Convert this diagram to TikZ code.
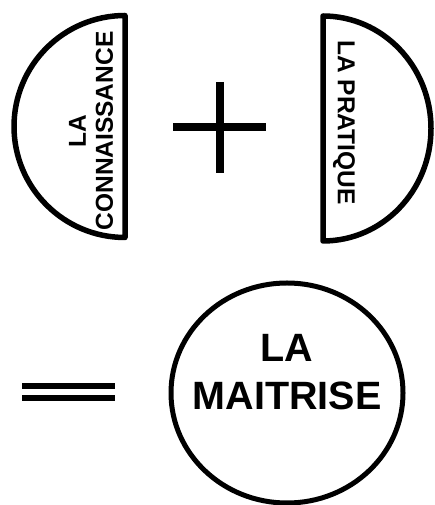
\documentclass[tikz,border=0pt]{standalone}
\usepackage{fontspec}
\setmainfont{Liberation Sans}
\usetikzlibrary{shapes.geometric, calc}

\begin{document}
\begin{tikzpicture}[x=1pt, y=1pt,
    half/.style={draw, line width=5.5pt, line join=round},
    bar/.style={line width=7.5pt},
    eqbar/.style={line width=6pt},
    lbl/.style={font=\fontsize{24.5}{27}\selectfont\bfseries, align=center, inner sep=0pt},
    big/.style={font=\fontsize{39.5}{48}\selectfont\bfseries, align=center, inner sep=0pt}
]
    \useasboundingbox (0,0) rectangle (435,505);
    % la connaissance
    \draw[half] (125,489.5) arc[start angle=90, end angle=270, radius=111] -- cycle;
    \node[lbl, rotate=90] (conn) at (91,374) {LA\\CONNAISSANCE};
    % plus
    \draw[bar] (220,423) -- (220,332);
    \draw[bar] (173,378) -- (266,378);
    % la pratique
    \draw[half] (323,489) arc[start angle=90, end angle=-90, x radius=108, y radius=112.5] -- cycle;
    \node[lbl, rotate=-90] (prat) at (344,382.5) {LA PRATIQUE};
    % egal
    \draw[eqbar] (22,118.5) -- (115,118.5);
    \draw[eqbar] (22,106.5) -- (115,106.5);
    % la maitrise
    \node[ellipse, draw, line width=5pt, minimum width=232pt, minimum height=220pt] (mait) at (287,112) {};
    \node[big] (maittxt) at (287,132.5) {LA\\MAITRISE};
\end{tikzpicture}
\end{document}
